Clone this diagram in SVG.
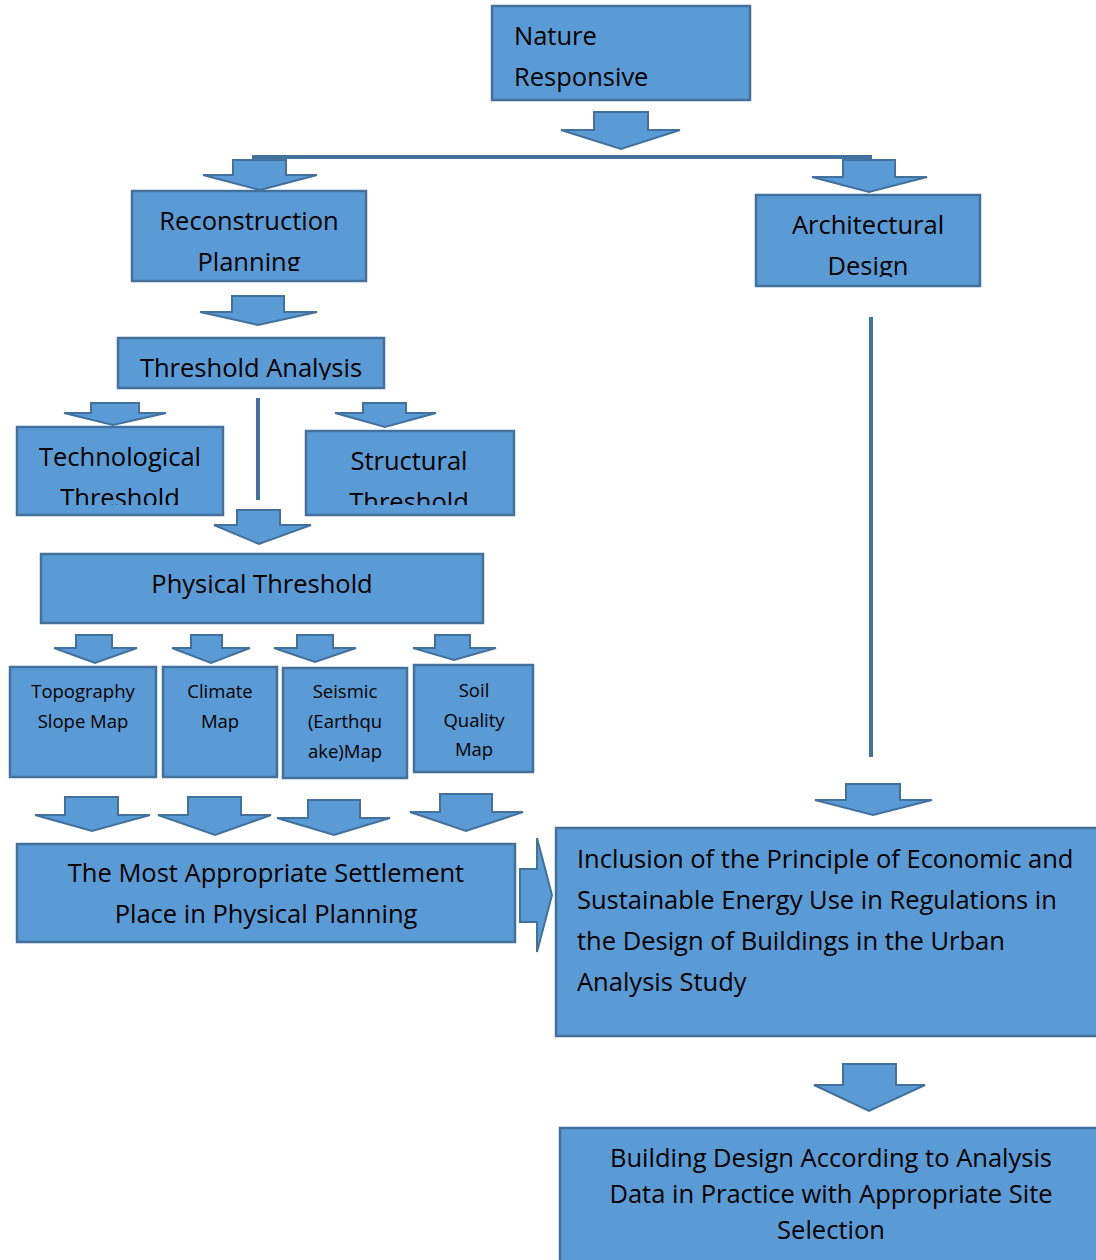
<svg xmlns="http://www.w3.org/2000/svg" width="1096" height="1260" viewBox="0 0 1096 1260">
<style>
.box{fill:#5B9BD5;stroke:#41719C;stroke-width:2.5}
.arr{fill:#5B9BD5;stroke:#41719C;stroke-width:2;stroke-linejoin:miter}
.ln{stroke:#41719C;stroke-width:4;fill:none}
text{font-family:"Open Sans",Lato,"Liberation Sans",sans-serif;fill:#000}
.t{font-size:25.5px}
.s{font-size:18.5px}
.c{text-anchor:middle}
</style>
<defs>
<clipPath id="cRec"><rect x="132" y="191" width="234" height="80"/></clipPath>
<clipPath id="cArc"><rect x="756" y="195" width="224" height="82"/></clipPath>
<clipPath id="cThr"><rect x="118" y="338" width="266" height="42"/></clipPath>
<clipPath id="cTec"><rect x="17" y="427" width="206" height="78"/></clipPath>
<clipPath id="cStr"><rect x="306" y="431" width="208" height="74"/></clipPath>
</defs>
<g id="connectors">
<path class="arr" d="M594,112 H648 V130 H680 L621,149 L561,130 H594 Z"/>
<line class="ln" x1="252" y1="157" x2="872" y2="157"/>
<path class="arr" d="M233,160 H286 V175 H317 L260,190 L203,175 H233 Z"/>
<path class="arr" d="M843,160 H895 V177 H927 L869,192 L812,177 H843 Z"/>
<path class="arr" d="M232,296 H284 V312 H317 L258,325 L200,312 H232 Z"/>
<path class="arr" d="M91,403 H139 V413 H166 L113,425 L64,413 H91 Z"/>
<line class="ln" x1="258" y1="398" x2="258" y2="500"/>
<path class="arr" d="M363,403 H406 V413 H436 L385,427 L335,413 H363 Z"/>
<path class="arr" d="M237,510 H280 V525 H311 L259,544 L214,525 H237 Z"/>
<path class="arr" d="M76,635 H112 V648 H137 L95,663 L54,648 H76 Z"/>
<path class="arr" d="M191,635 H222 V648 H250 L211,663 L172,648 H191 Z"/>
<path class="arr" d="M297,635 H333 V648 H356 L315,662 L274,648 H297 Z"/>
<path class="arr" d="M435,635 H470 V648 H496 L454,660 L413,648 H435 Z"/>
<path class="arr" d="M65,797 H118 V815 H150 L92,831 L35,815 H65 Z"/>
<path class="arr" d="M188,797 H241 V815 H271 L215,835 L158,815 H188 Z"/>
<path class="arr" d="M308,800 H360 V818 H390 L334,835 L277,818 H308 Z"/>
<path class="arr" d="M440,794 H492 V812 H523 L466,831 L410,812 H440 Z"/>
<path class="arr" d="M520,869 H537 V838 L552,895 L537,952 V922 H520 Z"/>
<line class="ln" x1="871" y1="317" x2="871" y2="757"/>
<path class="arr" d="M846,784 H900 V800 H932 L873,815 L815,800 H846 Z"/>
<path class="arr" d="M843,1064 H896 V1085 H925 L869,1111 L814,1085 H843 Z"/>
</g>
<g id="nature">
<rect class="box" x="492" y="6" width="258" height="94"/>
<text class="t" x="514" y="45">Nature</text>
<text class="t" x="514" y="86">Responsive</text>
</g>
<g id="reconstruction">
<rect class="box" x="132" y="191" width="234" height="90"/>
<g clip-path="url(#cRec)">
<text class="t c" x="249" y="230">Reconstruction</text>
<text class="t c" x="249" y="271">Planning</text>
</g>
</g>
<g id="architectural">
<rect class="box" x="756" y="195" width="224" height="91"/>
<g clip-path="url(#cArc)">
<text class="t c" x="868" y="234">Architectural</text>
<text class="t c" x="868" y="275">Design</text>
</g>
</g>
<g id="threshold-analysis">
<rect class="box" x="118" y="338" width="266" height="50"/>
<g clip-path="url(#cThr)">
<text class="t c" x="251" y="377">Threshold Analysis</text>
</g>
</g>
<g id="technological">
<rect class="box" x="17" y="427" width="206" height="88"/>
<g clip-path="url(#cTec)">
<text class="t c" x="120" y="466">Technological</text>
<text class="t c" x="120" y="507">Threshold</text>
</g>
</g>
<g id="structural">
<rect class="box" x="306" y="431" width="208" height="84"/>
<g clip-path="url(#cStr)">
<text class="t c" x="409" y="470">Structural</text>
<text class="t c" x="409" y="511">Threshold</text>
</g>
</g>
<g id="physical">
<rect class="box" x="41" y="554" width="442" height="69"/>
<text class="t c" x="262" y="593">Physical Threshold</text>
</g>
<g id="topography">
<rect class="box" x="10" y="667" width="146" height="110"/>
<text class="s c" x="83" y="698">Topography</text>
<text class="s c" x="83" y="728">Slope Map</text>
</g>
<g id="climate">
<rect class="box" x="163" y="667" width="114" height="110"/>
<text class="s c" x="220" y="698">Climate</text>
<text class="s c" x="220" y="728">Map</text>
</g>
<g id="seismic">
<rect class="box" x="283" y="668" width="124" height="110"/>
<text class="s c" x="345" y="698">Seismic</text>
<text class="s c" x="345" y="728">(Earthqu</text>
<text class="s c" x="345" y="758">ake)Map</text>
</g>
<g id="soil">
<rect class="box" x="414" y="665" width="119" height="107"/>
<text class="s c" x="474" y="697">Soil</text>
<text class="s c" x="474" y="727">Quality</text>
<text class="s c" x="474" y="756">Map</text>
</g>
<g id="settlement">
<rect class="box" x="17" y="844" width="498" height="98"/>
<text class="t c" x="266" y="882">The Most Appropriate Settlement</text>
<text class="t c" x="266" y="923">Place in Physical Planning</text>
</g>
<g id="inclusion">
<rect class="box" x="556" y="828" width="545" height="208"/>
<text class="t" x="577" y="868">Inclusion of the Principle of Economic and</text>
<text class="t" x="577" y="909">Sustainable Energy Use in Regulations in</text>
<text class="t" x="577" y="950">the Design of Buildings in the Urban</text>
<text class="t" x="577" y="991">Analysis Study</text>
</g>
<g id="building">
<rect class="box" x="560" y="1128" width="545" height="140"/>
<text class="t c" x="831" y="1167">Building Design According to Analysis</text>
<text class="t c" x="831" y="1203">Data in Practice with Appropriate Site</text>
<text class="t c" x="831" y="1239">Selection</text>
</g>
</svg>
